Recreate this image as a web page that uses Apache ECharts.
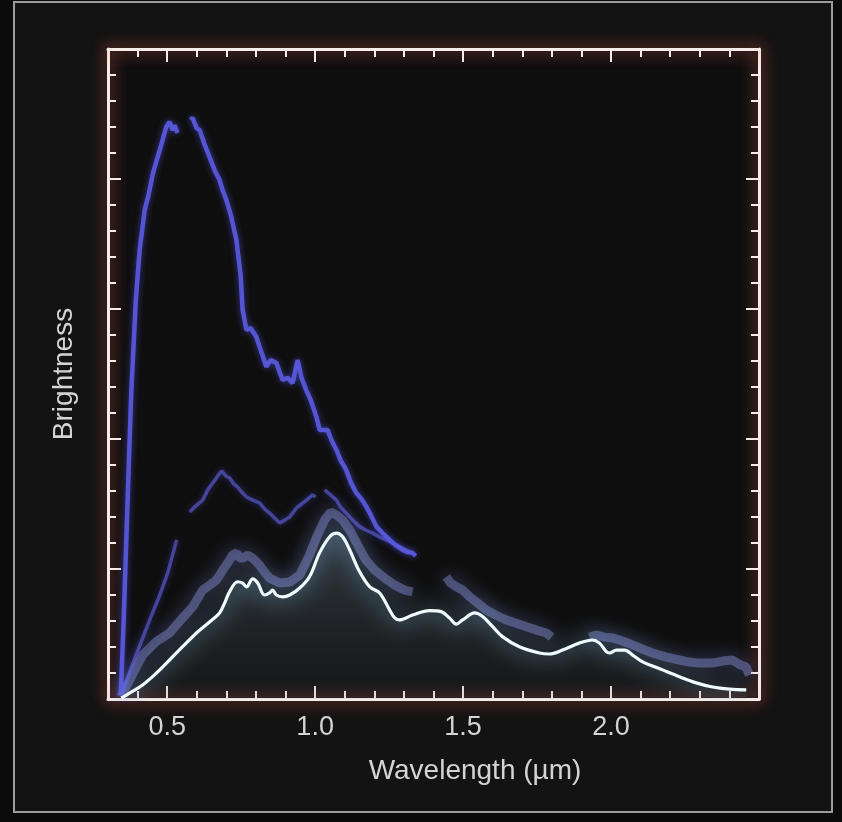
<!DOCTYPE html>
<html>
<head>
<meta charset="utf-8">
<script src="https://cdn.jsdelivr.net/npm/echarts@6/dist/echarts.min.js"></script>
<style>html,body{margin:0;padding:0;background:#0b0b0b;}#c{width:842px;height:822px;}</style>
</head>
<body>
<div id="c"></div>
<script>
// ---- Data (wavelength in µm, brightness in arbitrary units) ----
const xMajorTicks = [0.5, 1.0, 1.5, 2.0];
const xMinorTicks = [0.4, 0.6, 0.7, 0.8, 0.9, 1.1, 1.2, 1.3, 1.4, 1.6, 1.7, 1.8, 1.9, 2.1, 2.2, 2.3, 2.4];
const yMajorTicks = [5, 10, 15, 20];
const yMinorTicks = [1,2,3,4,6,7,8,9,11,12,13,14,16,17,18,19,21,22,23,24];

// Bright upper spectrum
const upperX = [0.343,0.353,0.363,0.373,0.379,0.394,0.407,0.424,0.437,0.452,0.475,0.497,0.508,0.519,0.525,0.535,0.555,
  0.579,0.586,0.599,0.610,0.627,0.643,0.660,0.677,0.687,0.700,0.715,0.734,0.748,0.755,0.768,0.782,0.801,0.816,0.835,0.850,
  0.869,0.890,0.907,0.924,0.941,0.954,0.970,0.985,1.004,1.015,1.042,1.055,1.072,1.086,1.105,1.120,1.139,1.154,1.173,1.188,
  1.207,1.228,1.252,1.272,1.296,1.312,1.329,1.340];
const upperY = [0.15,3.04,6.5,9.96,11.88,15.35,17.27,18.81,19.38,20.23,21.12,22.01,22.2,21.88,22.07,21.77,null,
  22.27,22.35,21.96,21.88,21.31,20.85,20.35,19.96,19.58,19.19,18.62,17.65,16.31,14.96,14.19,14.27,13.93,13.42,12.78,13.04,
  12.92,12.27,12.35,12.15,13.04,12.35,11.88,11.5,10.86,10.35,10.35,9.96,9.58,9.19,8.81,8.35,7.92,7.73,7.40,7.08,
  6.63,6.38,6.12,5.92,5.73,5.65,5.62,5.5];

// Dimmer middle spectrum
const middleX = [0.347,0.373,0.407,0.441,0.475,0.502,0.532,0.555,0.576,0.596,0.620,0.637,0.654,0.671,0.684,0.698,0.711,
  0.725,0.738,0.755,0.768,0.789,0.812,0.829,0.846,0.863,0.880,0.897,0.914,0.937,0.954,0.971,0.991,1.002,1.017,
  1.032,1.049,1.072,1.086,1.105,1.127,1.150,1.171,1.194,1.218,1.241,1.262,1.285,1.309,1.329];
const middleY = [0.15,1.04,2.04,3.04,4.0,4.85,6.12,null,7.19,7.42,7.65,8.04,8.31,8.58,8.77,8.58,8.5,
  8.27,8.15,7.92,7.77,7.65,7.54,7.31,7.15,6.96,6.77,6.88,7.0,7.35,7.5,7.65,7.85,7.77,null,
  8.04,7.88,7.65,7.38,7.15,6.88,6.63,6.5,6.38,6.23,6.12,6.0,5.86,5.73,5.62];

// Lower spectrum hugging the model curve
const lowerX = [0.343,0.373,0.417,0.461,0.508,0.552,0.586,0.620,0.644,0.667,0.688,0.711,0.721,0.735,0.745,0.755,0.772,
  0.789,0.812,0.829,0.846,0.880,0.914,0.948,0.981,1.008,1.032,1.053,1.072,1.093,1.117,1.144,1.171,1.201,1.235,1.269,
  1.302,1.329,1.38,1.443,1.458,1.477,1.498,1.522,1.549,1.578,1.610,1.646,1.677,1.714,1.748,1.781,1.799,1.86,
  1.927,1.950,1.978,2.005,2.039,2.073,2.107,2.140,2.184,2.231,2.265,2.299,2.343,2.377,2.410,2.437,2.457,2.467];
const lowerY = [0.08,0.73,1.69,2.19,2.54,3.12,3.54,4.19,4.38,4.58,4.96,5.35,5.54,5.62,5.42,5.42,5.54,
  5.42,5.15,4.88,4.65,4.46,4.5,4.77,5.54,6.31,6.88,7.19,7.08,6.88,6.5,5.92,5.35,4.96,4.65,4.38,
  4.19,4.12,null,4.70,4.46,4.32,4.19,3.93,3.69,3.42,3.23,3.04,2.92,2.78,2.65,2.54,2.38,null,
  2.38,2.46,2.38,2.35,2.23,2.08,1.92,1.77,1.62,1.5,1.42,1.38,1.38,1.46,1.5,1.31,1.23,0.92];

// Glowing model curve
const modelX = [0.345,0.373,0.417,0.464,0.508,0.552,0.599,0.644,0.677,0.694,0.711,0.738,0.755,0.768,0.789,0.806,0.829,
  0.846,0.856,0.869,0.890,0.914,0.948,0.981,1.015,1.049,1.072,1.093,1.117,1.150,1.184,1.218,1.252,1.269,1.285,1.329,
  1.387,1.426,1.454,1.477,1.498,1.539,1.566,1.600,1.633,1.690,1.758,1.792,1.836,1.893,1.937,1.961,1.984,1.995,2.018,
  2.046,2.073,2.107,2.174,2.231,2.288,2.343,2.400,2.457];
const modelY = [0.03,0.23,0.54,1.0,1.5,2.01,2.54,2.97,3.31,3.69,4.13,4.51,4.46,4.31,4.62,4.46,4.0,
  4.08,4.19,4.0,3.93,4.0,4.27,4.70,5.62,6.24,6.38,6.24,5.73,4.90,4.32,4.08,3.42,3.12,3.04,3.23,
  3.40,3.36,3.12,2.88,3.04,3.31,3.17,2.78,2.40,2.01,1.77,1.73,1.88,2.15,2.27,2.15,1.82,1.77,1.88,
  1.88,1.69,1.43,1.12,0.86,0.62,0.46,0.38,0.35];

function pairs(xs, ys) { return xs.map((x, i) => [x, ys[i] === null ? '-' : ys[i]]); }

const frameColor = '#f6ebe7';
const frameLine = { color: frameColor, width: 3, shadowColor: 'rgba(255,105,85,0.9)', shadowBlur: 16 };
const tickLine = { color: frameColor, width: 2 };
const labelFont = { fontFamily: 'Liberation Sans, Arial, sans-serif', color: '#d4d4d4', fontSize: 27 };

function xAxisDef(position, ticks, len, withLine, withLabel) {
  return {
    type: 'value', gridIndex: 0, position: position, min: 0.3, max: 2.5,
    axisLine: { show: withLine, onZero: false, lineStyle: frameLine },
    axisTick: { show: true, inside: true, length: len, customValues: ticks, lineStyle: tickLine },
    axisLabel: withLabel ? Object.assign({ show: true, customValues: xMajorTicks, margin: 15,
      formatter: v => Number(v).toFixed(1) }, labelFont) : { show: false },
    splitLine: { show: false }
  };
}
function yAxisDef(position, ticks, len, withLine, withName) {
  const d = {
    type: 'value', gridIndex: 0, position: position, min: 0, max: 25,
    axisLine: { show: withLine, onZero: false, lineStyle: frameLine },
    axisTick: { show: true, inside: true, length: len, customValues: ticks, lineStyle: tickLine },
    axisLabel: { show: false },
    splitLine: { show: false }
  };
  if (withName) {
    d.name = 'Brightness';
    d.nameLocation = 'middle';
    d.nameRotate = 90;
    d.nameGap = 30;
    d.nameTextStyle = Object.assign({}, labelFont, { fontSize: 28 });
  }
  return d;
}

const chart = echarts.init(document.getElementById('c'), null, { renderer: 'canvas' });
chart.setOption({
  backgroundColor: '#0b0b0b',
  animation: false,
  graphic: [
    { type: 'rect', z: -100, shape: { x: 14, y: 2, width: 818, height: 810 },
      style: { fill: '#131313', stroke: '#9c9c9c', lineWidth: 2 } },
    { type: 'rect', z: -99, shape: { x: 108, y: 49, width: 651, height: 650 },
      style: { fill: '#0f0f0f' } },
    { type: 'text', z: 10, x: 475, y: 771,
      style: { text: 'Wavelength (µm)', align: 'center', verticalAlign: 'middle',
        fill: '#d4d4d4', font: '28px "Liberation Sans", Arial, sans-serif' } }
  ],
  grid: { left: 108, top: 49, right: 83, bottom: 123, containLabel: false },
  xAxis: [
    xAxisDef('bottom', xMajorTicks, 13, true, true),
    xAxisDef('bottom', xMinorTicks, 8, false, false),
    xAxisDef('top', xMajorTicks, 13, true, false),
    xAxisDef('top', xMinorTicks, 8, false, false)
  ],
  yAxis: [
    yAxisDef('left', yMajorTicks, 13, true, true),
    yAxisDef('left', yMinorTicks, 8, false, false),
    yAxisDef('right', yMajorTicks, 13, true, false),
    yAxisDef('right', yMinorTicks, 8, false, false)
  ],
  series: [
    { type: 'line', name: 'lower', data: pairs(lowerX, lowerY), showSymbol: false, z: 3,
      lineStyle: { color: '#a2a8ff', width: 9, opacity: 0.36, shadowBlur: 18, shadowColor: 'rgba(140,150,255,1)' } },
    { type: 'line', name: 'middle', data: pairs(middleX, middleY), showSymbol: false, z: 4,
      lineStyle: { color: '#6262e0', width: 3.5, opacity: 0.6, shadowBlur: 6, shadowColor: 'rgba(90,90,255,0.6)' } },
    { type: 'line', name: 'upper', data: pairs(upperX, upperY), showSymbol: false, z: 5,
      lineStyle: { color: '#5a5ae0', width: 4.5, opacity: 0.92, shadowBlur: 6, shadowColor: 'rgba(90,90,255,0.6)' } },
    { type: 'line', name: 'model', data: pairs(modelX, modelY), showSymbol: false, smooth: 0.35, z: 6,
      lineStyle: { color: '#effbff', width: 3.2, shadowBlur: 22, shadowColor: 'rgba(150,215,255,1)' },
      areaStyle: { color: new echarts.graphic.LinearGradient(0, 0, 0, 1, [
        { offset: 0, color: 'rgba(150,180,210,0.38)' },
        { offset: 1, color: 'rgba(80,95,110,0.15)' }]) } }
  ]
});
</script>
</body>
</html>
